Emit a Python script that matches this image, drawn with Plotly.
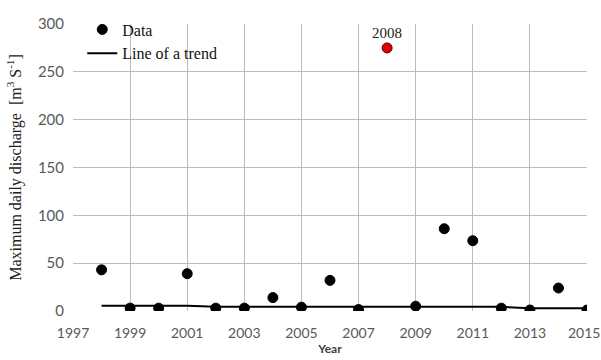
import plotly.graph_objects as go

# Annual maximum daily discharge
years = [1998, 1999, 2000, 2001, 2002, 2003, 2004, 2005, 2006,
         2007, 2008, 2009, 2010, 2011, 2012, 2013, 2014, 2015]
discharge = [43, 3, 3, 39, 3, 3, 14, 4, 32,
             1.5, 275, 5, 86, 73.5, 3, 1, 24, 1]

# Trend line values
trend = [5.4, 5.4, 5.4, 5.4, 4.4, 4.4, 4.4, 4.4, 4.4,
         4.4, 4.4, 4.4, 4.4, 4.4, 4.4, 2.8, 2.8, 2.8]

highlight_year = 2008

x_ticks = list(range(1997, 2016, 2))
x_labels = [str(v) for v in x_ticks]
y_ticks = list(range(0, 301, 50))

serif = "Liberation Serif, Times New Roman, serif"
sans = "Lato, Open Sans, sans-serif"
tick_font = dict(family=sans, size=14, color="#595959")

colors = ["#e00000" if y == highlight_year else "black" for y in years]
line_colors = ["#5a0000" if y == highlight_year else "black" for y in years]

fig = go.Figure()
fig.add_trace(go.Scatter(
    x=years, y=discharge, mode="markers", name="Data",
    marker=dict(size=10, color=colors, line=dict(color=line_colors, width=1)),
))
fig.add_trace(go.Scatter(
    x=years, y=trend, mode="lines", name="Line of a trend",
    line=dict(color="black", width=2),
))

hi = years.index(highlight_year)
fig.add_annotation(
    x=years[hi], y=discharge[hi], text=str(highlight_year),
    showarrow=False, yshift=15,
    font=dict(family=serif, size=15, color="#222222"),
)

# last x label drawn separately, nudged so it stays inside the page
fig.add_annotation(
    x=x_ticks[-1], xref="x", y=0, yref="paper", yanchor="middle",
    text=x_labels[-1], showarrow=False, xshift=-3, yshift=-21,
    font=tick_font,
)
axis_labels = x_labels[:-1] + [""]

fig.update_layout(
    width=601, height=360,
    margin=dict(l=73, r=14, t=17, b=49),
    plot_bgcolor="white", paper_bgcolor="white",
    showlegend=True,
    legend=dict(
        x=0.018, y=1.04, xanchor="left", yanchor="top",
        bgcolor="rgba(255,255,255,0)",
        font=dict(family=serif, size=16, color="#111111"),
        itemwidth=30, tracegroupgap=0,
    ),
    xaxis=dict(
        range=[1997, 2015], tickvals=x_ticks, ticktext=axis_labels, automargin=False,
        showgrid=True, gridcolor="#bdbdbd", gridwidth=1,
        zeroline=False, showline=False,
        tickfont=tick_font,
        ticklabeloverflow="allow", ticklabelstandoff=12,
        title=dict(text="<b>Year</b>", font=dict(family=sans, size=12, color="#404040"), standoff=4),
        ticks="", ticklen=0,
    ),
    yaxis=dict(
        range=[0, 300], tickvals=y_ticks, automargin=False,
        showgrid=True, gridcolor="#bdbdbd", gridwidth=1,
        zeroline=False, showline=False,
        tickfont=dict(family=sans, size=15, color="#595959"),
        ticklabelstandoff=8,
        title=dict(text="Maximum daily discharge  [m<sup>3</sup> S<sup>-1</sup>]",
                   font=dict(family=serif, size=16, color="#222222"), standoff=12),
        ticks="", ticklen=0,
    ),
)

fig.write_html("out.html")
